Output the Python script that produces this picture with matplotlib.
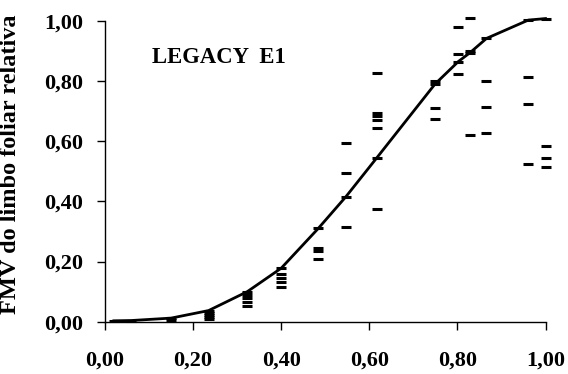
import matplotlib
matplotlib.use("Agg")
import matplotlib.pyplot as plt

# Fitted curve (line) at each sampled relative position
curve_x = [0.02, 0.06, 0.15, 0.235, 0.323, 0.40, 0.484, 0.547, 0.617,
           0.749, 0.802, 0.829, 0.866, 0.961, 1.00]
curve_y = [0.003, 0.004, 0.012, 0.037, 0.10, 0.178, 0.31, 0.416, 0.545,
           0.79, 0.865, 0.895, 0.942, 1.003, 1.008]

# Observed values per position
obs_x = [0.15, 0.235, 0.323, 0.40, 0.484, 0.547, 0.617,
         0.749, 0.802, 0.829, 0.866, 0.961, 1.00]
obs_y = [
    [0.006],
    [0.03, 0.023, 0.015, 0.008],
    [0.09, 0.078, 0.066, 0.053],
    [0.16, 0.145, 0.131, 0.116],
    [0.245, 0.235, 0.208],
    [0.595, 0.493, 0.316],
    [0.828, 0.695, 0.683, 0.67, 0.645, 0.374],
    [0.80, 0.71, 0.675],
    [0.979, 0.89, 0.824],
    [1.009, 0.90, 0.621],
    [0.80, 0.715, 0.627],
    [0.813, 0.724, 0.523],
    [0.585, 0.543, 0.513],
]

ticks = [0.0, 0.2, 0.4, 0.6, 0.8, 1.0]
tick_labels = ["0,00", "0,20", "0,40", "0,60", "0,80", "1,00"]

plt.rcParams["font.family"] = ["Liberation Serif", "DejaVu Serif"]
plt.rcParams["font.weight"] = "bold"

fig = plt.figure(figsize=(5.68, 3.74), dpi=100)
ax = fig.add_axes([0.1849, 0.1398, 0.7755, 0.8041])

ax.plot(curve_x, curve_y, color="black", lw=2, marker="_", ms=7.5,
        mew=2.2, clip_on=False, zorder=3)
for x, ys in zip(obs_x, obs_y):
    ax.plot([x] * len(ys), ys, ls="none", marker="_", ms=7.5, mew=2.2,
            color="black", clip_on=False, zorder=3)

ax.set_xlim(0, 1)
ax.set_ylim(0, 1)
ax.set_xticks(ticks)
ax.set_xticklabels(tick_labels)
ax.set_yticks(ticks)
ax.set_yticklabels(tick_labels)
ax.tick_params(axis="x", direction="out", length=6, width=1, pad=15,
               labelsize=16)
ax.tick_params(axis="y", direction="out", length=6, width=1, pad=10,
               labelsize=16)
for lbl in ax.get_xticklabels() + ax.get_yticklabels():
    lbl.set_fontweight("bold")

ax.spines["top"].set_visible(False)
ax.spines["right"].set_visible(False)
ax.spines["left"].set_linewidth(1)
ax.spines["bottom"].set_linewidth(1)

ax.set_ylabel("FMV do limbo foliar relativa", fontsize=17.5, fontweight="bold")
ax.yaxis.set_label_coords(-0.19, 0.525)

ax.text(0.107, 0.86, "LEGACY  E1", fontsize=16.3, fontweight="bold",
        ha="left", va="baseline")

fig.savefig("out.png", dpi=100)
